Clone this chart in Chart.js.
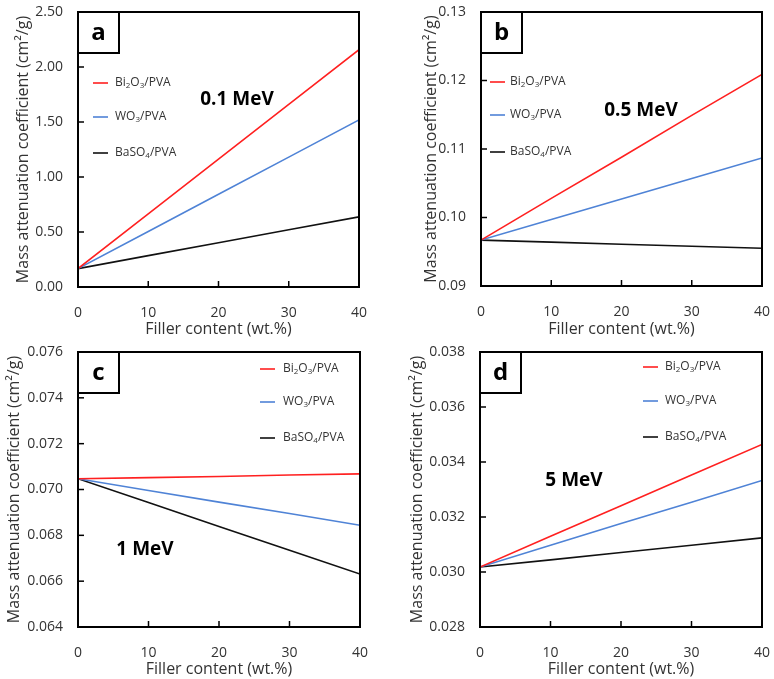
<!DOCTYPE html>
<html>
<head>
<meta charset="utf-8">
<script src="https://cdn.jsdelivr.net/npm/chart.js"></script>
<style>
  html, body { margin: 0; padding: 0; background: #fff; }
  body { width: 774px; height: 679px; position: relative; overflow: hidden; }
  canvas { position: absolute; }
</style>
</head>
<body>
<canvas id="chartA" width="387" height="340" style="left:0;top:0"></canvas>
<canvas id="chartB" width="384" height="340" style="left:390px;top:0"></canvas>
<canvas id="chartC" width="387" height="344" style="left:0;top:335px"></canvas>
<canvas id="chartD" width="384" height="344" style="left:390px;top:335px"></canvas>
<script>
// ================= DATA =================
const fillerContent = [0, 10, 20, 30, 40];
const seriesLabels = ["Bi₂O₃/PVA", "WO₃/PVA", "BaSO₄/PVA"];
const energyLabels = ["0.1 MeV", "0.5 MeV", "1 MeV", "5 MeV"];
const panelTags = ["a", "b", "c", "d"];

// 0.1 MeV
const bi2o3At01 = [0.167, 0.665, 1.163, 1.660, 2.157];
const wo3At01 = [0.167, 0.505, 0.843, 1.181, 1.519];
const baso4At01 = [0.167, 0.285, 0.403, 0.520, 0.638];
const yTicks01 = [0, 2.5, 0.5];

// 0.5 MeV
const bi2o3At05 = [0.0967, 0.1028, 0.1088, 0.1149, 0.1209];
const wo3At05 = [0.0967, 0.0997, 0.1027, 0.1057, 0.1087];
const baso4At05 = [0.0967, 0.0964, 0.0961, 0.0958, 0.0955];
const yTicks05 = [0.09, 0.13, 0.01];

// 1 MeV
const bi2o3At1 = [0.07047, 0.07052, 0.07057, 0.07063, 0.07068];
const wo3At1 = [0.07047, 0.06996, 0.06945, 0.06895, 0.06844];
const baso4At1 = [0.07047, 0.06943, 0.06839, 0.06735, 0.06631];
const yTicks1 = [0.064, 0.076, 0.002];

// 5 MeV
const bi2o3At5 = [0.03018, 0.03130, 0.03241, 0.03353, 0.03464];
const wo3At5 = [0.03018, 0.03097, 0.03176, 0.03254, 0.03333];
const baso4At5 = [0.03018, 0.03044, 0.03071, 0.03097, 0.03124];
const yTicks5 = [0.028, 0.038, 0.002];

const lineColors = ["#ff2020", "#4f83d6", "#111111"];
const FONT = "'Open Sans', 'DejaVu Sans', sans-serif";
Chart.defaults.font.family = FONT;

// ================= PANELS =================
const panels = [
  { canvas: "chartA", series: [bi2o3At01, wo3At01, baso4At01], y: yTicks01, dec: 2,
    yw: 78, xh: 53, pad: { left: 0, right: 28, top: 12, bottom: 0 }, titleX: 14, titleB: 1,
    legend: { line: 15, text: 37, rows: [71, 105, 141] }, energy: [159, 88], tag: 0 },
  { canvas: "chartB", series: [bi2o3At05, wo3At05, baso4At05], y: yTicks05, dec: 2,
    yw: 91, xh: 54, pad: { left: 0, right: 12, top: 12, bottom: 0 }, titleX: 32, titleB: 1,
    legend: { line: 9, text: 29, rows: [70, 103, 140] }, energy: [160, 99], tag: 1 },
  { canvas: "chartC", series: [bi2o3At1, wo3At1, baso4At1], y: yTicks1, dec: 3,
    yw: 78, xh: 52, pad: { left: 0, right: 27, top: 17, bottom: 0 }, titleX: 5, titleB: 0,
    legend: { line: 182, text: 205, rows: [17, 50, 86] }, energy: [67, 198], tag: 2 },
  { canvas: "chartD", series: [bi2o3At5, wo3At5, baso4At5], y: yTicks5, dec: 3,
    yw: 90, xh: 52, pad: { left: 0, right: 12, top: 17, bottom: 0 }, titleX: 18, titleB: 0,
    legend: { line: 163, text: 185, rows: [15, 49, 85] }, energy: [94, 129], tag: 3 }
];

// draws text, turning unicode subscript digits into small lowered digits
function drawRich(ctx, str, x, y, size) {
  const subs = "₀₁₂₃₄₅₆₇₈₉";
  for (const ch of str) {
    const i = subs.indexOf(ch);
    if (i >= 0) {
      ctx.font = `${Math.round(size * 0.65)}px ${FONT}`;
      ctx.fillText(String(i), x, y + size * 0.25);
      x += ctx.measureText(String(i)).width;
    } else {
      ctx.font = `${size}px ${FONT}`;
      ctx.fillText(ch, x, y);
      x += ctx.measureText(ch).width;
    }
  }
}

const decor = {
  id: "decor",
  afterDatasetsDraw(chart) {
    const p = chart.options.plugins.decor;
    const { ctx, chartArea: a } = chart;
    ctx.save();

    // inward ticks
    ctx.strokeStyle = "#000";
    ctx.lineWidth = 1.5;
    const xs = chart.scales.x, ys = chart.scales.y;
    xs.ticks.forEach(t => {
      const px = xs.getPixelForValue(t.value);
      ctx.beginPath(); ctx.moveTo(px, a.bottom); ctx.lineTo(px, a.bottom - 6); ctx.stroke();
    });
    ys.ticks.forEach(t => {
      const py = ys.getPixelForValue(t.value);
      ctx.beginPath(); ctx.moveTo(a.left, py); ctx.lineTo(a.left + 6, py); ctx.stroke();
    });

    // frame
    ctx.lineWidth = 2;
    ctx.strokeRect(a.left, a.top, a.right - a.left, a.bottom - a.top);

    // tag box
    ctx.fillStyle = "#fff";
    ctx.fillRect(a.left, a.top, 41, 41);
    ctx.strokeRect(a.left, a.top, 41, 41);
    ctx.fillStyle = "#000";
    ctx.font = `bold 24px ${FONT}`;
    ctx.textAlign = "center";
    ctx.textBaseline = "middle";
    ctx.fillText(panelTags[p.tag], a.left + 20.5, a.top + 21);

    // energy label
    ctx.font = `bold 19px ${FONT}`;
    ctx.fillText(energyLabels[p.tag], a.left + p.energy[0], a.top + p.energy[1]);

    // legend
    ctx.textAlign = "left";
    chart.data.datasets.forEach((ds, i) => {
      const y = a.top + p.legend.rows[i];
      ctx.strokeStyle = ds.borderColor;
      ctx.lineWidth = 1.6;
      ctx.beginPath();
      ctx.moveTo(a.left + p.legend.line, y);
      ctx.lineTo(a.left + p.legend.line + 15, y);
      ctx.stroke();
      ctx.fillStyle = "#333";
      drawRich(ctx, ds.label, a.left + p.legend.text, y, 12);
    });
    ctx.restore();
  }
};

panels.forEach(p => {
  const ctx = document.getElementById(p.canvas).getContext("2d");
  new Chart(ctx, {
    type: "line",
    data: {
      datasets: p.series.map((vals, i) => ({
        label: seriesLabels[i],
        data: fillerContent.map((x, j) => ({ x, y: vals[j] })),
        borderColor: lineColors[i],
        borderWidth: 1.6,
        pointRadius: 0,
        tension: 0
      }))
    },
    options: {
      responsive: false,
      animation: false,
      layout: { padding: p.pad },
      plugins: {
        legend: { display: false },
        tooltip: { enabled: false },
        decor: { legend: p.legend, energy: p.energy, tag: p.tag }
      },
      scales: {
        x: {
          type: "linear",
          min: 0, max: 40,
          afterFit: s => { s.height = p.xh; s.paddingLeft = 0; s.paddingRight = 0; },
          grid: { display: false, drawTicks: false },
          border: { display: false },
          ticks: { stepSize: 10, padding: 18, color: "#333", font: { size: 14 } },
          title: { display: true, text: "Filler content (wt.%)", color: "#333",
                   font: { size: 16 }, padding: { top: 0, bottom: p.titleB } }
        },
        y: {
          min: p.y[0], max: p.y[1],
          afterFit: s => { s.width = p.yw; s.paddingTop = 0; s.paddingBottom = 0; },
          grid: { display: false, drawTicks: false },
          border: { display: false },
          ticks: { stepSize: p.y[2], padding: 15, color: "#333", font: { size: 14 },
                   callback: v => v.toFixed(p.dec) },
          title: { display: true, text: "Mass attenuation coefficient (cm²/g)", color: "#333",
                   font: { size: 16 }, padding: { top: p.titleX, bottom: 0 } }
        }
      }
    },
    plugins: [decor]
  });
});
</script>
</body>
</html>
